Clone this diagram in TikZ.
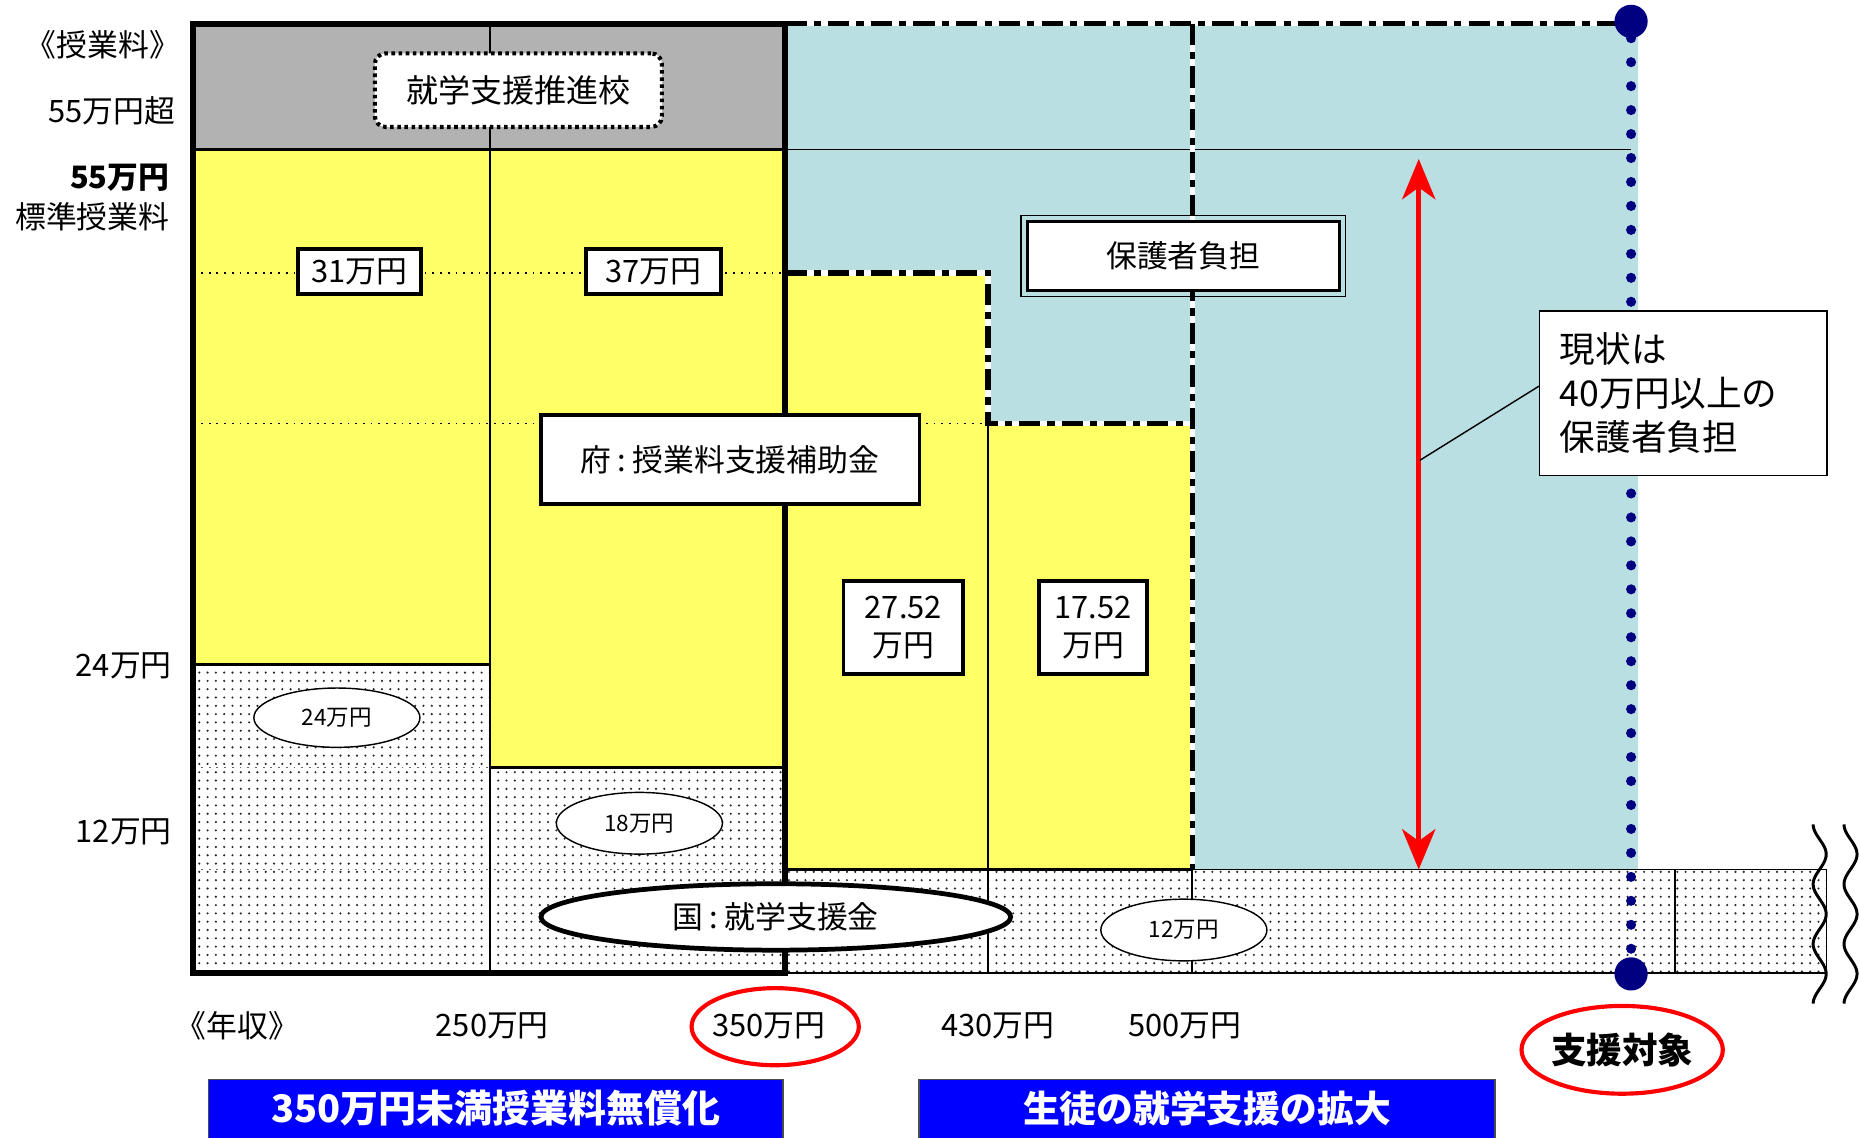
\documentclass[tikz,border=0pt]{standalone}
\usepackage{fontspec}
\setmainfont{Noto Sans CJK JP}
\usetikzlibrary{arrows.meta,shapes.geometric,patterns.meta}
\definecolor{cgray}{HTML}{B2B2B2}
\definecolor{cyel}{HTML}{FFFF66}
\definecolor{cblue}{HTML}{B9DFE2}
\definecolor{cnavy}{HTML}{000080}
\definecolor{cbbox}{HTML}{0000FF}
\newcommand\myfs[1]{\fontsize{#1}{#1}\selectfont}
\begin{document}
\begin{tikzpicture}[x=1pt,y=-1pt,
  lbl/.style={inner sep=0pt, font=\myfs{26}},
  tbox/.style={draw, line width=3pt, fill=white, inner sep=0pt, font=\myfs{26}},
  ell/.style={ellipse, draw, line width=1.2pt, fill=white, inner sep=0pt, font=\myfs{19}},
  dotfill/.style={preaction={fill=white}, pattern={Dots[distance=7pt,radius=1pt]}, pattern color=black!85},
  dashdot/.style={line width=4.5pt, dash pattern=on 18pt off 6pt on 6pt off 6pt},
  dashunder/.style={line width=4.5pt, white},
  dotline/.style={line width=1.5pt, dash pattern=on 1.5pt off 5pt},
  redring/.style={ellipse, draw=red, line width=3.5pt, inner sep=0pt},
  bluebox/.style={fill=cbbox, inner sep=0pt, text=white, font=\bfseries\myfs{32}},
  navydot/.style={circle, fill=cnavy, minimum size=28pt, inner sep=0pt},
  redarrow/.style={red, line width=4pt, {Stealth[length=34pt,width=28pt,inset=10pt]}-{Stealth[length=34pt,width=28pt,inset=10pt]}}
]
\useasboundingbox (0,0) rectangle (1568,959);
% fills
\fill[cblue] (662,20) rectangle (1381,733);
\fill[cgray] (163,20) rectangle (662,126);
\fill[cyel] (163,126) rectangle (413,560);
\fill[cyel] (413,126) rectangle (662,647);
\fill[cyel] (662,230) rectangle (833,733);
\fill[cyel] (833,357) rectangle (1005,733);
\path[dotfill] (163,560) rectangle (413,820);
\path[dotfill] (413,647) rectangle (662,820);
\path[dotfill] (662,733) rectangle (1540,820);
% dotted guide lines
\draw[dotline] (163,230) -- (662,230);
\draw[dotline] (163,357) -- (833,357);
\draw[dotline, black!60] (163,647) -- (413,647);
\draw[dotline, black!60] (163,733) -- (662,733);
% thin lines
\draw[line width=1pt] (662,126) -- (1375,126);
\draw[line width=2.5pt] (163,126) -- (662,126);
\draw[line width=1.8pt] (413,20) -- (413,820);
\draw[line width=1.2pt] (833,357) -- (833,820);
\draw[line width=1.2pt] (1005,733) -- (1005,820);
\draw[line width=1.2pt] (1412,733) -- (1412,820);
\draw[line width=1pt] (1005,733) -- (1540,733) -- (1540,820);
\draw[line width=2pt] (662,820) -- (1540,820);
\draw[line width=3pt] (163,560) -- (413,560);
\draw[line width=3pt] (413,647) -- (662,647);
\draw[line width=3pt] (662,733) -- (1005,733);
% frame
\draw[line width=5pt] (163,20) rectangle (662,820);
% dash-dot lines
\draw[dashunder] (662,20) -- (1375,20);
\draw[dashunder] (1005,20) -- (1005,733);
\draw[dashunder] (662,230) -- (833,230) -- (833,357) -- (1005,357);
\draw[dashdot] (662,20) -- (1375,20);
\draw[dashdot] (1005,20) -- (1005,733);
\draw[dashdot] (662,230) -- (833,230) -- (833,357) -- (1005,357);
% navy dotted line
\node[navydot] (dtop) at (1375,18) {};
\node[navydot] (dbot) at (1375,821) {};
\draw[cnavy, line width=8.5pt, line cap=round, dash pattern=on 0pt off 20.2pt] (dtop) -- (dbot);
% red arrow
\coordinate (atop) at (1196,134);
\coordinate (abot) at (1196,733);
\draw[redarrow] (atop) -- (abot);
% callout
\node[draw, line width=1.2pt, fill=white, minimum height=139pt, text width=208pt, inner xsep=17pt, inner ysep=0pt, align=left, font=\fontsize{30}{37}\selectfont] (callout) at (1419,331.5) {現状は\\40万円以上の\\保護者負担};
\coordinate (cpt) at (1197,388);
\draw[line width=1.2pt] ([yshift=6pt]callout.west) -- (cpt);
% boxes
\node[draw, line width=3.5pt, dash pattern=on 3pt off 3pt, rounded corners=9pt, fill=white, minimum width=242pt, minimum height=62pt, inner sep=0pt, font=\myfs{27}] (suishin) at (437,76) {就学支援推進校};
\node[tbox, minimum width=104pt, minimum height=38pt] (b31) at (303,229) {31万円};
\node[tbox, minimum width=114pt, minimum height=38pt] (b37) at (551,229) {37万円};
\node[tbox, minimum width=319pt, minimum height=75pt] (bfu) at (615.5,387.5) {府\hspace{0.2em}:\hspace{0.2em}授業料支援補助金};
\node[tbox, minimum width=101pt, minimum height=78pt, align=center, font=\fontsize{26}{32}\selectfont] (b2752) at (761.5,529) {27.52\\万円};
\node[tbox, minimum width=91pt, minimum height=78pt, align=center, font=\fontsize{26}{32}\selectfont] (b1752) at (921.5,529) {17.52\\万円};
\node[tbox, line width=2.5pt, minimum width=263pt, minimum height=58pt] (hogo) at (997.5,216) {保護者負担};
\draw[line width=1pt] ([shift={(-4,-4)}]hogo.north west) rectangle ([shift={(4,4)}]hogo.south east);
% ellipses
\node[ell, minimum width=140pt, minimum height=50pt] (e24) at (284,605) {24万円};
\node[ell, minimum width=140pt, minimum height=52pt] (e18) at (539,694) {18万円};
\node[ell, minimum width=140pt, minimum height=52pt] (e12) at (998,784) {12万円};
\node[ell, line width=4pt, minimum width=396pt, minimum height=56pt, font=\myfs{26}] (kuni) at (654,773) {国\hspace{0.2em}:\hspace{0.2em}就学支援金};
% left labels
\node[lbl, anchor=east, font=\myfs{26}] (lj) at (152,38) {《授業料》};
\node[lbl, anchor=east] (l55c) at (148,93) {55万円超};
\node[lbl, anchor=east, font=\bfseries\myfs{26}] (l55) at (143,150) {55万円};
\node[lbl, anchor=east] (lstd) at (143,183) {標準授業料};
\node[lbl, anchor=east] (l24) at (145,561) {24万円};
\node[lbl, anchor=east] (l12) at (145,701) {12万円};
% bottom labels
\node[lbl] (nen) at (200,865) {《年収》};
\node[lbl] (i250) at (415,865) {250万円};
\node[lbl] (i350) at (648,865) {350万円};
\node[lbl] (i430) at (841,865) {430万円};
\node[lbl] (i500) at (999,865) {500万円};
\node[redring, minimum width=141pt, minimum height=65pt] (r350) at (653.5,865.5) {};
\node[redring, minimum width=167pt, minimum height=74pt, font=\bfseries\myfs{30}] (shien) at (1367.5,885) {支援対象};
% wavy lines
\draw[line width=2.5pt] plot[domain=0:151, samples=90, smooth] ({1534-5.5*cos(7.143*\x)}, {695+\x});
\draw[line width=2.5pt] plot[domain=0:151, samples=90, smooth] ({1560-5.5*cos(7.143*\x)}, {695+\x});
% blue boxes
\node[bluebox, minimum width=484pt, minimum height=49pt] (bb1) at (418,934.5) {350万円未満授業料無償化};
\draw[line width=1.2pt, black!70] (bb1.south west) |- (bb1.north east) -- (bb1.south east);
\node[bluebox, font=\bfseries\myfs{31}, minimum width=485pt, minimum height=49pt] (bb2) at (1017.5,934.5) {生徒の就学支援の拡大};
\draw[line width=1.2pt, black!70] (bb2.south west) |- (bb2.north east) -- (bb2.south east);
\end{tikzpicture}
\end{document}
